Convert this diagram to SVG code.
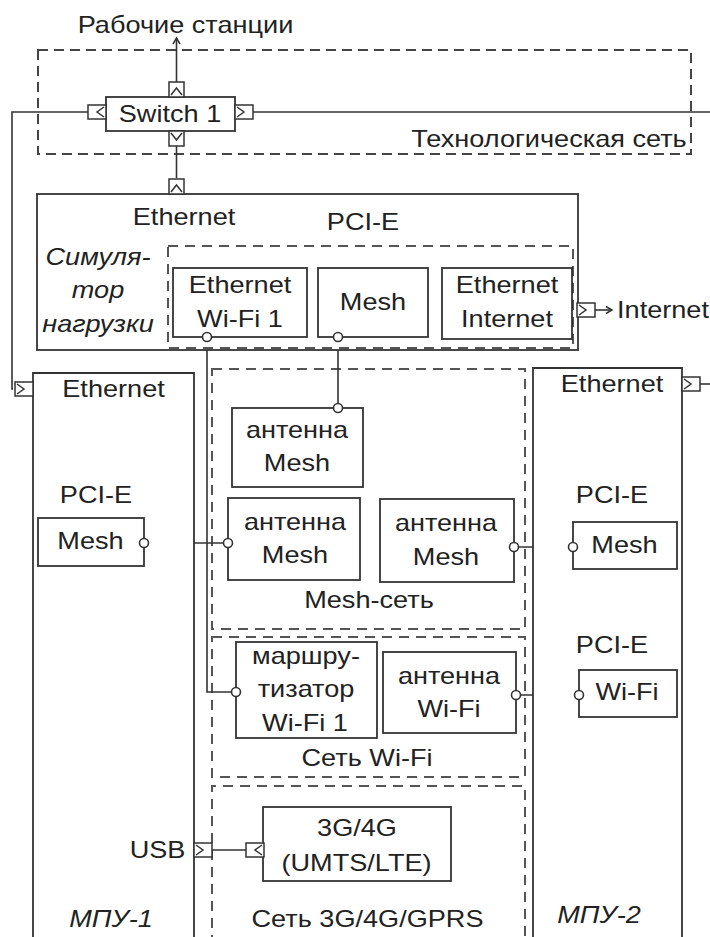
<svg xmlns="http://www.w3.org/2000/svg" xmlns:xlink="http://www.w3.org/1999/xlink" width="710" height="937" viewBox="0 0 710 937">
  <style>
    .t{font-family:"Liberation Sans",Arial,sans-serif;font-size:24px;fill:#222;text-anchor:middle}
    .i{font-style:italic}
    .box{fill:#fff;stroke:#333;stroke-width:1.8}
    .zone{fill:none;stroke:#444;stroke-width:2;stroke-dasharray:10 6}
    .zone2{fill:none;stroke:#555;stroke-width:2;stroke-dasharray:10 7}
    .ln{fill:none;stroke:#333;stroke-width:1.6}
    .pin{fill:#fff;stroke:#333;stroke-width:1.6}
    .port{fill:#fff;stroke:#333;stroke-width:1.5}
    .chev{fill:none;stroke:#333;stroke-width:1.5}
  </style>
  <defs>
    <!-- connector port: chevron opening to the left -->
    <g id="pR"><rect class="port" x="0" y="0" width="18" height="14"/><polyline class="chev" points="2,2 9,7 2,12"/></g>
    <!-- connector port: chevron opening to the right -->
    <g id="pL"><rect class="port" x="0" y="0" width="18" height="14"/><polyline class="chev" points="16,2 9,7 16,12"/></g>
    <!-- connector port: chevron opening downwards -->
    <g id="pU"><rect class="port" x="0" y="0" width="15" height="15"/><polyline class="chev" points="2,13 7.5,6 13,13"/></g>
    <!-- connector port: chevron opening upwards -->
    <g id="pD"><rect class="port" x="0" y="0" width="15" height="15"/><polyline class="chev" points="2,2 7.5,9 13,2"/></g>
    <marker id="arr" markerWidth="10" markerHeight="10" refX="8" refY="5" orient="auto" markerUnits="userSpaceOnUse">
      <polyline points="2,1.5 8,5 2,8.5" fill="none" stroke="#333" stroke-width="1.5"/>
    </marker>
  </defs>

  <rect width="710" height="937" fill="#fff"/>

  <!-- network zones -->
  <g id="zones">
    <rect class="zone" x="38" y="50" width="653" height="104"/>
    <text class="t" transform="translate(549,147) scale(1.13,1)">Технологическая сеть</text>
    <rect class="zone2" x="212" y="369" width="313" height="260"/>
    <text class="t" transform="translate(369,608) scale(1.13,1)">Mesh-сеть</text>
    <rect class="zone2" x="212" y="637" width="313" height="140"/>
    <text class="t" transform="translate(367,766) scale(1.13,1)">Сеть Wi-Fi</text>
    <path class="zone2" d="M212,945 V786 H525 V945"/>
    <text class="t" transform="translate(367.5,927) scale(1.13,1)">Сеть 3G/4G/GPRS</text>
  </g>

  <!-- connectors -->
  <g id="connectors">
    <line class="ln" x1="176.5" y1="82" x2="176.5" y2="38" marker-end="url(#arr)"/>
    <line class="ln" x1="176.5" y1="146" x2="176.5" y2="178"/>
    <line class="ln" x1="253" y1="112" x2="710" y2="112"/>
    <polyline class="ln" points="88,112 12,112 12,389 13,389"/>
    <line class="ln" x1="595" y1="310" x2="612" y2="310" marker-end="url(#arr)"/>
    <line class="ln" x1="700" y1="384" x2="710" y2="384"/>
    <polyline class="ln" points="207,337 207,692 236,692"/>
    <line class="ln" x1="338" y1="337" x2="338" y2="408"/>
    <line class="ln" x1="144" y1="543" x2="228" y2="543"/>
    <line class="ln" x1="514" y1="547" x2="573" y2="547"/>
    <line class="ln" x1="516" y1="695" x2="579" y2="695"/>
    <line class="ln" x1="212" y1="850" x2="247" y2="850"/>
  </g>

  <text class="t" transform="translate(185.5,33) scale(1.13,1)">Рабочие станции</text>

  <g id="switch1">
    <rect class="box" x="106" y="97" width="129" height="34"/>
    <text class="t" transform="translate(170,122) scale(1.13,1)">Switch 1</text>
    <use xlink:href="#pU" x="169" y="82"/>
    <use xlink:href="#pD" x="169" y="131"/>
    <use xlink:href="#pL" x="88" y="105"/>
    <use xlink:href="#pR" x="235" y="105"/>
  </g>

  <g id="simulator">
    <rect class="box" x="37" y="194" width="541" height="156"/>
    <use xlink:href="#pU" x="169" y="179"/>
    <text class="t" transform="translate(184,225) scale(1.13,1)">Ethernet</text>
    <text class="t" transform="translate(363,230) scale(1.13,1)">PCI-E</text>
    <text class="t i" transform="translate(98,265) scale(1.13,1)">Симуля-</text>
    <text class="t i" transform="translate(98,298) scale(1.13,1)">тор</text>
    <text class="t i" transform="translate(98,332) scale(1.13,1)">нагрузки</text>
    <rect class="zone2" x="168" y="246" width="405" height="102"/>
    <use xlink:href="#pR" x="577" y="303"/>
    <text class="t" transform="translate(663,318) scale(1.13,1)">Internet</text>
  </g>

  <g id="sim-wifi1">
    <rect class="box" x="173" y="268" width="134" height="69"/>
    <text class="t" transform="translate(240,293) scale(1.13,1)">Ethernet</text>
    <text class="t" transform="translate(240,327) scale(1.13,1)">Wi-Fi 1</text>
    <circle class="pin" cx="207" cy="337" r="4.5"/>
  </g>

  <g id="sim-mesh">
    <rect class="box" x="318" y="268" width="110" height="69"/>
    <text class="t" transform="translate(373,310) scale(1.13,1)">Mesh</text>
    <circle class="pin" cx="338" cy="337" r="4.5"/>
  </g>

  <g id="sim-internet">
    <rect class="box" x="442" y="268" width="130" height="71"/>
    <text class="t" transform="translate(507,293) scale(1.13,1)">Ethernet</text>
    <text class="t" transform="translate(507,327) scale(1.13,1)">Internet</text>
  </g>

  <g id="mpu1">
    <path class="box" d="M33,945 V373 H194 V945"/>
    <use xlink:href="#pR" x="15" y="382"/>
    <text class="t" transform="translate(113.5,397) scale(1.13,1)">Ethernet</text>
    <text class="t" transform="translate(96,503) scale(1.13,1)">PCI-E</text>
    <use xlink:href="#pR" x="194" y="843"/>
    <text class="t" transform="translate(157.5,858) scale(1.13,1)">USB</text>
    <text class="t i" transform="translate(111,927) scale(1.13,1)">МПУ-1</text>
  </g>

  <g id="mpu1-mesh">
    <rect class="box" x="38" y="518" width="106" height="48"/>
    <text class="t" transform="translate(90.5,549) scale(1.13,1)">Mesh</text>
    <circle class="pin" cx="144" cy="543" r="4.5"/>
  </g>

  <g id="mpu2">
    <path class="box" d="M533,945 V368 H682 V945"/>
    <use xlink:href="#pR" x="682" y="377"/>
    <text class="t" transform="translate(612,392) scale(1.13,1)">Ethernet</text>
    <text class="t" transform="translate(612,503) scale(1.13,1)">PCI-E</text>
    <text class="t" transform="translate(612,653) scale(1.13,1)">PCI-E</text>
    <text class="t i" transform="translate(599,923) scale(1.13,1)">МПУ-2</text>
  </g>

  <g id="mpu2-mesh">
    <rect class="box" x="573" y="522" width="104" height="47"/>
    <text class="t" transform="translate(624.5,553) scale(1.13,1)">Mesh</text>
    <circle class="pin" cx="573" cy="547" r="4.5"/>
  </g>

  <g id="mpu2-wifi">
    <rect class="box" x="579" y="670" width="98" height="47"/>
    <text class="t" transform="translate(627,700) scale(1.13,1)">Wi-Fi</text>
    <circle class="pin" cx="579" cy="695" r="4.5"/>
  </g>

  <g id="antenna-mesh-1">
    <rect class="box" x="232" y="408" width="131" height="79"/>
    <text class="t" transform="translate(297,438) scale(1.13,1)">антенна</text>
    <text class="t" transform="translate(297,471) scale(1.13,1)">Mesh</text>
    <circle class="pin" cx="338" cy="408" r="4.5"/>
  </g>

  <g id="antenna-mesh-2">
    <rect class="box" x="228" y="498" width="132" height="82"/>
    <text class="t" transform="translate(295,530) scale(1.13,1)">антенна</text>
    <text class="t" transform="translate(295,563) scale(1.13,1)">Mesh</text>
    <circle class="pin" cx="228" cy="543" r="4.5"/>
  </g>

  <g id="antenna-mesh-3">
    <rect class="box" x="380" y="499" width="134" height="83"/>
    <text class="t" transform="translate(446,531) scale(1.13,1)">антенна</text>
    <text class="t" transform="translate(446,565) scale(1.13,1)">Mesh</text>
    <circle class="pin" cx="514" cy="547" r="4.5"/>
  </g>

  <g id="router-wifi1">
    <rect class="box" x="236" y="642" width="141" height="96"/>
    <text class="t" transform="translate(306,664) scale(1.13,1)">маршру-</text>
    <text class="t" transform="translate(306,697) scale(1.13,1)">тизатор</text>
    <text class="t" transform="translate(305,731) scale(1.13,1)">Wi-Fi 1</text>
    <circle class="pin" cx="236" cy="692" r="4.5"/>
  </g>

  <g id="antenna-wifi">
    <rect class="box" x="383" y="652" width="133" height="81"/>
    <text class="t" transform="translate(449,684) scale(1.13,1)">антенна</text>
    <text class="t" transform="translate(449,717) scale(1.13,1)">Wi-Fi</text>
    <circle class="pin" cx="516" cy="695" r="4.5"/>
  </g>

  <g id="modem-3g4g">
    <rect class="box" x="263" y="807" width="188" height="74"/>
    <use xlink:href="#pL" x="246" y="843"/>
    <text class="t" transform="translate(357,836) scale(1.13,1)">3G/4G</text>
    <text class="t" transform="translate(356.5,871) scale(1.13,1)">(UMTS/LTE)</text>
  </g>
</svg>
